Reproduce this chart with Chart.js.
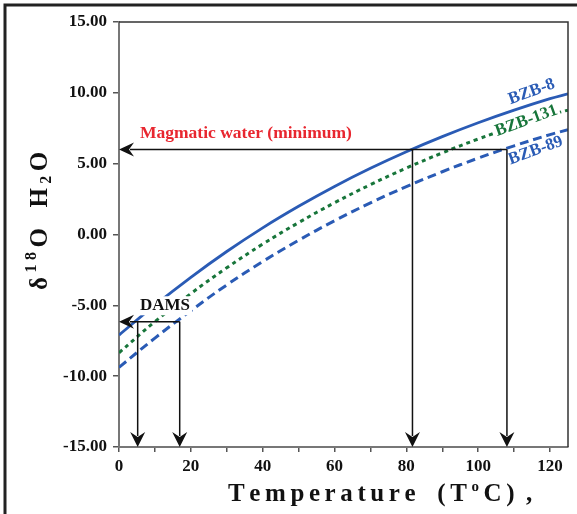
<!DOCTYPE html>
<html>
<head>
<meta charset="utf-8">
<script src="https://cdn.jsdelivr.net/npm/chart.js@4"></script>
<style>
html, body { margin: 0; padding: 0; background: #fff; }
</style>
</head>
<body>
<canvas id="isoChart" width="577" height="514"></canvas>
<script>
// Temperature (°C) and δ18O H2O values
const temps  = [0, 10, 20, 30, 40, 50, 60, 70, 80, 90, 100, 110, 120, 125];
const bzb8   = [-7.1, -4.99, -3.02, -1.2, 0.47, 1.99, 3.39, 4.67, 5.84, 6.91, 7.89, 8.78, 9.59, 9.93];
const bzb131 = [-8.35, -6.15, -4.17, -2.35, -0.68, 0.84, 2.24, 3.52, 4.69, 5.76, 6.74, 7.63, 8.44, 8.78];
const bzb89  = [-9.38, -7.31, -5.38, -3.56, -1.91, -0.41, 0.97, 2.23, 3.38, 4.43, 5.39, 6.26, 7.05, 7.4];

// reference lines: magmatic water minimum and DAMS
const magmaticY = 6.0;
const magmaticX = [81.7, 108];
const damsY = -6.15;
const damsX = [5.2, 16.9];

// curve labels: [text, x, y]
const curveLabels = [
    ['BZB-8', 109, 9.2],
    ['BZB-131', 105.3, 6.95],
    ['BZB-89', 109, 4.95]
];

const BLUE = '#2a5bb5';
const GREEN = '#17753a';
const RED = '#e8262f';
const SERIF = '"Liberation Serif", "Times New Roman", serif';

function toPts(vals) {
    return temps.map((t, i) => ({ x: t, y: vals[i] }));
}

function line(ctx, x1, y1, x2, y2) {
    ctx.beginPath();
    ctx.moveTo(x1, y1);
    ctx.lineTo(x2, y2);
    ctx.stroke();
}

function arrowHead(ctx, tx, ty, dir) {
    ctx.beginPath();
    if (dir === 'down') {
        ctx.moveTo(tx, ty);
        ctx.lineTo(tx - 7.5, ty - 15);
        ctx.lineTo(tx, ty - 10);
        ctx.lineTo(tx + 7.5, ty - 15);
    } else {
        ctx.moveTo(tx, ty);
        ctx.lineTo(tx + 15, ty - 7);
        ctx.lineTo(tx + 10, ty);
        ctx.lineTo(tx + 15, ty + 7);
    }
    ctx.closePath();
    ctx.fill();
}

// draws a run of text pieces with letter spacing, starting at (0,0) baseline
function drawRun(ctx, parts, spacing) {
    let pos = 0;
    parts.forEach(p => {
        if (p.gap) { pos += p.gap; return; }
        ctx.font = 'bold ' + p.size + 'px ' + SERIF;
        for (const ch of p.t) {
            ctx.fillText(ch, pos, p.dy || 0);
            pos += ctx.measureText(ch).width + spacing;
        }
    });
}

const annotations = {
    id: 'annotations',
    afterDatasetsDraw(chart) {
        const { ctx, scales: { x, y } } = chart;
        const x0 = x.getPixelForValue(0);
        const yBot = y.getPixelForValue(-15);
        ctx.save();

        // DAMS label with white backing
        const dx = x.getPixelForValue(5.85);
        const dy = y.getPixelForValue(-5.35);
        ctx.font = 'bold 17px ' + SERIF;
        const dw = ctx.measureText('DAMS').width;
        ctx.fillStyle = '#fff';
        ctx.fillRect(dx - 2, dy - 14, dw + 4, 19);
        ctx.fillStyle = '#111';
        ctx.textBaseline = 'alphabetic';
        ctx.fillText('DAMS', dx, dy);

        ctx.strokeStyle = '#111';
        ctx.lineWidth = 1.5;

        // magmatic water
        const yM = y.getPixelForValue(magmaticY);
        line(ctx, x.getPixelForValue(Math.max(...magmaticX)), yM, x0 + 11, yM);
        arrowHead(ctx, x0, yM, 'left');
        magmaticX.forEach(t => {
            const px = x.getPixelForValue(t);
            line(ctx, px, yM, px, yBot - 11);
            arrowHead(ctx, px, yBot, 'down');
        });

        // DAMS
        const yD = y.getPixelForValue(damsY);
        line(ctx, x.getPixelForValue(Math.max(...damsX)), yD, x0 + 11, yD);
        arrowHead(ctx, x0, yD, 'left');
        damsX.forEach(t => {
            const px = x.getPixelForValue(t);
            line(ctx, px, yD, px, yBot - 11);
            arrowHead(ctx, px, yBot, 'down');
        });

        // magmatic label
        ctx.fillStyle = RED;
        ctx.font = 'bold 17.5px ' + SERIF;
        ctx.fillText('Magmatic water (minimum)', x.getPixelForValue(5.85), y.getPixelForValue(6.8));

        // curve labels
        ctx.font = 'bold 17px ' + SERIF;
        curveLabels.forEach(([txt, lx, ly]) => {
            ctx.save();
            ctx.translate(x.getPixelForValue(lx), y.getPixelForValue(ly));
            ctx.rotate(-20 * Math.PI / 180);
            if (txt === 'BZB-131') {
                // the dotted line is broken where the label sits
                ctx.fillStyle = '#fff';
                ctx.fillRect(-3, -13, ctx.measureText(txt).width + 5, 15);
            }
            ctx.fillStyle = txt === 'BZB-131' ? GREEN : BLUE;
            ctx.fillText(txt, 0, 0);
            ctx.restore();
        });
        ctx.restore();
    },
    afterDraw(chart) {
        const { ctx, chartArea: a } = chart;
        ctx.save();
        // plot box top and right
        ctx.strokeStyle = '#333';
        ctx.lineWidth = 1.5;
        ctx.beginPath();
        ctx.moveTo(a.left, a.top);
        ctx.lineTo(a.right, a.top);
        ctx.lineTo(a.right, a.bottom);
        ctx.stroke();

        // outer frame (top and left)
        ctx.strokeStyle = '#222';
        ctx.lineWidth = 3;
        ctx.beginPath();
        ctx.moveTo(5, 514);
        ctx.lineTo(5, 5);
        ctx.lineTo(577, 5);
        ctx.stroke();

        // axis titles
        ctx.fillStyle = '#111';
        ctx.textBaseline = 'alphabetic';
        ctx.save();
        ctx.translate(228, 501);
        drawRun(ctx, [
            { t: 'Temperature', size: 25 },
            { gap: 17 },
            { t: '(T', size: 25 },
            { t: 'o', size: 15, dy: -10 },
            { t: 'C)', size: 25 },
            { gap: 7 },
            { t: ',', size: 25 }
        ], 4.6);
        ctx.restore();

        ctx.save();
        ctx.translate(47, 290);
        ctx.rotate(-Math.PI / 2);
        drawRun(ctx, [
            { t: 'δ', size: 25 },
            { t: '18', size: 16, dy: -11 },
            { t: 'O', size: 25 },
            { gap: 16 },
            { t: 'H', size: 25 },
            { t: '2', size: 16, dy: 4 },
            { t: 'O', size: 25 }
        ], 4.5);
        ctx.restore();
        ctx.restore();
    }
};

new Chart(document.getElementById('isoChart').getContext('2d'), {
    type: 'line',
    data: {
        datasets: [{
            label: 'BZB-8',
            data: toPts(bzb8),
            borderColor: BLUE,
            borderWidth: 2.8,
            pointRadius: 0,
            tension: 0.4,
            fill: false
        }, {
            label: 'BZB-131',
            data: toPts(bzb131),
            borderColor: GREEN,
            borderWidth: 3,
            borderDash: [4, 4],
            pointRadius: 0,
            tension: 0.4,
            fill: false
        }, {
            label: 'BZB-89',
            data: toPts(bzb89),
            borderColor: BLUE,
            borderWidth: 3,
            borderDash: [9, 5],
            pointRadius: 0,
            tension: 0.4,
            fill: false
        }]
    },
    options: {
        responsive: false,
        devicePixelRatio: 1,
        animation: false,
        layout: { padding: { top: 22, right: 9, left: 0, bottom: 0 } },
        plugins: {
            legend: { display: false },
            tooltip: { enabled: false }
        },
        scales: {
            x: {
                type: 'linear',
                min: 0,
                max: 125,
                afterFit: s => { s.height = 67; },
                ticks: {
                    stepSize: 10,
                    includeBounds: false,
                    autoSkip: false,
                    maxRotation: 0,
                    padding: 4,
                    color: '#111',
                    font: { family: SERIF, size: 17, weight: 'bold' },
                    callback: v => (v % 20 === 0 ? v : '')
                },
                grid: { drawOnChartArea: false, tickLength: 5, color: '#555', lineWidth: 1.5 },
                border: { color: '#777', width: 2 }
            },
            y: {
                min: -15,
                max: 15,
                afterFit: s => { s.width = 119; },
                ticks: {
                    stepSize: 5,
                    padding: 6,
                    color: '#111',
                    font: { family: SERIF, size: 17, weight: 'bold' },
                    callback: v => v.toFixed(2)
                },
                grid: { drawOnChartArea: false, tickLength: 6, color: '#555', lineWidth: 1.5 },
                border: { color: '#777', width: 2 }
            }
        }
    },
    plugins: [annotations]
});
</script>
</body>
</html>
